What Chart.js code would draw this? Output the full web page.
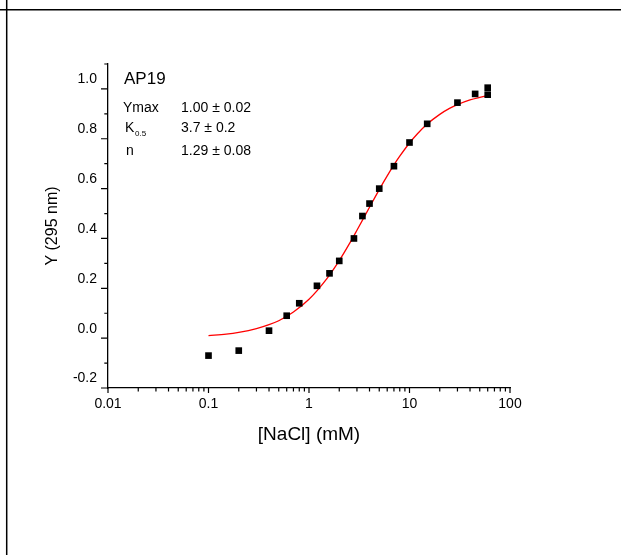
<!DOCTYPE html>
<html>
<head>
<meta charset="utf-8">
<style>
  html, body { margin: 0; padding: 0; background: #fff; }
  #wrap { position: relative; width: 621px; height: 555px; }
</style>
<script src="https://cdn.jsdelivr.net/npm/chart.js@4.4.1/dist/chart.umd.min.js"></script>
</head>
<body>
<div id="wrap"><canvas id="grafico" width="621" height="555"></canvas></div>
<script>
// pontos medidos
const nacl = [0.1, 0.2, 0.4, 0.6, 0.8, 1.2, 1.6, 2, 2.8, 3.4, 4, 5, 7, 10, 15, 30, 45, 60, 60];
const sinal = [-0.07, -0.05, 0.03, 0.09, 0.14, 0.21, 0.26, 0.31, 0.40, 0.49, 0.54, 0.60, 0.69, 0.785, 0.86, 0.945, 0.98, 1.005, 0.977];

// curva de ajuste
const ajusteX = [0.1, 0.15, 0.2, 0.3, 0.4, 0.5, 0.7, 1, 1.5, 2, 2.5, 3, 4, 5, 6, 7, 8, 10, 12, 15, 20, 25, 30, 40, 50, 60];
const ajusteY = [0.01, 0.016, 0.023, 0.038, 0.054, 0.07, 0.105, 0.156, 0.238, 0.311, 0.376, 0.433, 0.525, 0.596, 0.651, 0.695, 0.730, 0.783, 0.820, 0.859, 0.898, 0.922, 0.937, 0.956, 0.966, 0.973];

// eixos
const xMaiores = [0.01, 0.1, 1, 10, 100];
const xMenores = [0.02, 0.03, 0.04, 0.05, 0.06, 0.07, 0.08, 0.09,
                  0.2, 0.3, 0.4, 0.5, 0.6, 0.7, 0.8, 0.9,
                  2, 3, 4, 5, 6, 7, 8, 9,
                  20, 30, 40, 50, 60, 70, 80, 90];
const yMaiores = [-0.2, 0, 0.2, 0.4, 0.6, 0.8, 1.0];
const yMenores = [-0.1, 0.1, 0.3, 0.5, 0.7, 0.9, 1.1];

const fonte = "'Liberation Sans', Arial, sans-serif";

const pluginMoldura = {
    id: "moldura",
    beforeDraw(chart) {
        const ctx = chart.ctx;
        ctx.save();
        ctx.strokeStyle = "#000";
        ctx.lineWidth = 1.5;
        ctx.beginPath();
        ctx.moveTo(0, 9.7);
        ctx.lineTo(621, 9.7);
        ctx.moveTo(6.7, 0);
        ctx.lineTo(6.7, 555);
        ctx.stroke();
        ctx.restore();
    }
};

const pluginTicks = {
    id: "ticks",
    afterDraw(chart) {
        const ctx = chart.ctx;
        const sx = chart.scales.x;
        const sy = chart.scales.y;
        ctx.save();
        ctx.strokeStyle = "#000";
        ctx.lineWidth = 1.2;
        ctx.beginPath();
        xMaiores.forEach(function (v) {
            const px = sx.getPixelForValue(v);
            ctx.moveTo(px, sy.bottom);
            ctx.lineTo(px, sy.bottom + 5);
        });
        xMenores.forEach(function (v) {
            const px = sx.getPixelForValue(v);
            ctx.moveTo(px, sy.bottom);
            ctx.lineTo(px, sy.bottom + 3.5);
        });
        yMaiores.forEach(function (v) {
            const py = sy.getPixelForValue(v);
            ctx.moveTo(sx.left, py);
            ctx.lineTo(sx.left - 7, py);
        });
        yMenores.forEach(function (v) {
            const py = sy.getPixelForValue(v);
            ctx.moveTo(sx.left, py);
            ctx.lineTo(sx.left - 3.7, py);
        });
        ctx.stroke();

        // texto dos parametros
        ctx.fillStyle = "#000";
        ctx.textBaseline = "alphabetic";
        ctx.textAlign = "left";
        ctx.font = "17px " + fonte;
        ctx.fillText("AP19", 124, 84);
        ctx.font = "14px " + fonte;
        ctx.fillText("Ymax", 123, 112);
        ctx.fillText("1.00 \u00b1 0.02", 181, 112);
        ctx.fillText("K", 125, 132);
        ctx.fillText("3.7 \u00b1 0.2", 181, 132);
        ctx.fillText("n", 126, 155);
        ctx.fillText("1.29 \u00b1 0.08", 181, 155);
        ctx.font = "8px " + fonte;
        ctx.fillText("0.5", 135, 136);
        ctx.restore();
    }
};

new Chart(document.getElementById("grafico"), {
    type: "scatter",
    data: {
        datasets: [{
            label: "ajuste",
            type: "line",
            data: ajusteX.map(function (x, i) { return { x: x, y: ajusteY[i] }; }),
            borderColor: "#ff0000",
            borderWidth: 1.3,
            pointRadius: 0,
            fill: false,
            cubicInterpolationMode: "monotone",
            order: 2
        }, {
            label: "AP19",
            data: nacl.map(function (x, i) { return { x: x, y: sinal[i] }; }),
            pointStyle: "rect",
            pointRadius: 4.7,
            pointBorderWidth: 0,
            backgroundColor: "#000",
            borderColor: "#000",
            order: 1
        }]
    },
    options: {
        responsive: false,
        animation: false,
        events: [],
        layout: { padding: { left: 43, right: 111, top: 64, bottom: 109 } },
        plugins: {
            legend: { display: false },
            tooltip: { enabled: false }
        },
        scales: {
            x: {
                type: "logarithmic",
                min: 0.01,
                max: 100,
                afterBuildTicks: function (scale) {
                    scale.ticks = xMaiores.map(function (v) { return { value: v }; });
                },
                afterFit: function (scale) { scale.height = 58; },
                grid: { display: false, drawTicks: false },
                border: { display: true, color: "#000", width: 1.3 },
                ticks: {
                    color: "#000",
                    padding: 7.5,
                    maxRotation: 0,
                    autoSkip: false,
                    font: { family: fonte, size: 14 },
                    callback: function (v) { return String(v); }
                },
                title: {
                    display: true,
                    text: "[NaCl] (mM)",
                    color: "#000",
                    padding: 0,
                    font: { family: fonte, size: 19 }
                }
            },
            y: {
                min: -0.2,
                max: 1.1,
                afterBuildTicks: function (scale) {
                    scale.ticks = yMaiores.map(function (v) { return { value: v }; });
                },
                afterFit: function (scale) { scale.width = 65; },
                grid: { display: false, drawTicks: false },
                border: { display: true, color: "#000", width: 1.3 },
                ticks: {
                    color: "#000",
                    padding: 11,
                    labelOffset: -9.5,
                    font: { family: fonte, size: 14 },
                    callback: function (v) { return v.toFixed(1); }
                },
                title: {
                    display: true,
                    text: "Y (295 nm)",
                    color: "#000",
                    padding: 0,
                    font: { family: fonte, size: 16 }
                }
            }
        }
    },
    plugins: [pluginMoldura, pluginTicks]
});
</script>
</body>
</html>
